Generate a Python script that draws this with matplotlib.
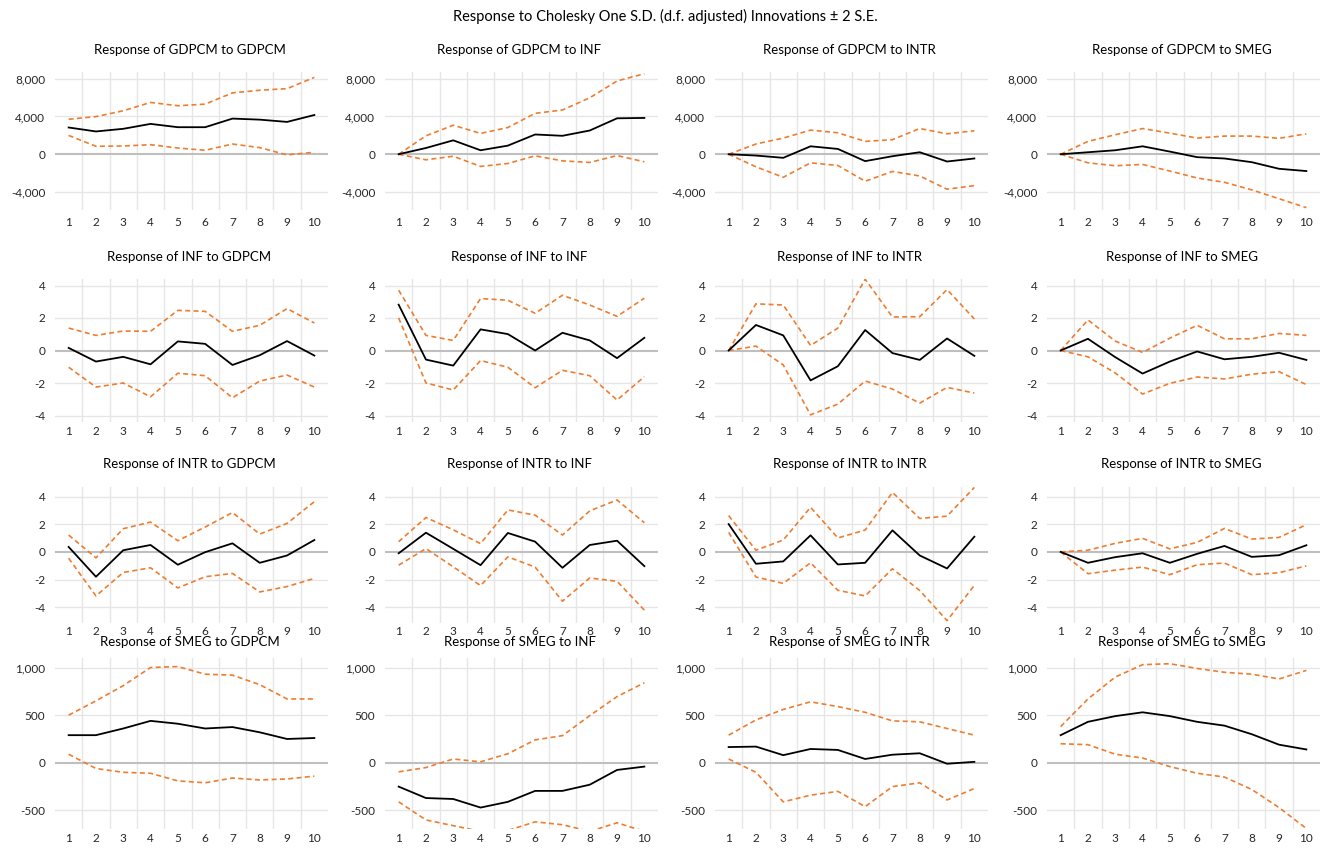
import numpy as np
import matplotlib.pyplot as plt

plt.rcParams['font.family'] = ['Lato', 'DejaVu Sans']
plt.rcParams['axes.unicode_minus'] = False

periods = np.arange(1, 11)
names = ['GDPCM', 'INF', 'INTR', 'SMEG']

# response, upper band, lower band for each (response of, to) pair
resp = {
    ('GDPCM', 'GDPCM'): [2830, 2410, 2690, 3210, 2860, 2860, 3770, 3660, 3420, 4150],
    ('GDPCM', 'INF'): [0, 660, 1470, 420, 910, 2090, 1950, 2510, 3800, 3840],
    ('GDPCM', 'INTR'): [0, -140, -380, 840, 560, -730, -210, 210, -770, -450],
    ('GDPCM', 'SMEG'): [0, 210, 420, 840, 280, -310, -450, -840, -1540, -1780],
    ('INF', 'GDPCM'): [0.16, -0.68, -0.39, -0.85, 0.56, 0.41, -0.89, -0.29, 0.58, -0.31],
    ('INF', 'INF'): [2.82, -0.56, -0.93, 1.30, 1.01, 0.0, 1.09, 0.62, -0.47, 0.78],
    ('INF', 'INTR'): [0, 1.57, 0.93, -1.84, -0.97, 1.26, -0.16, -0.58, 0.74, -0.33],
    ('INF', 'SMEG'): [0, 0.72, -0.41, -1.42, -0.68, -0.06, -0.54, -0.39, -0.14, -0.58],
    ('INTR', 'GDPCM'): [0.36, -1.80, 0.12, 0.50, -0.93, -0.02, 0.62, -0.79, -0.26, 0.86],
    ('INTR', 'INF'): [-0.10, 1.39, 0.22, -0.96, 1.37, 0.74, -1.15, 0.50, 0.81, -1.03],
    ('INTR', 'INTR'): [2.01, -0.86, -0.69, 1.20, -0.91, -0.79, 1.56, -0.26, -1.20, 1.10],
    ('INTR', 'SMEG'): [0, -0.79, -0.38, -0.10, -0.79, -0.14, 0.43, -0.36, -0.24, 0.48],
    ('SMEG', 'GDPCM'): [290, 290, 360, 440, 410, 360, 375, 320, 250, 260],
    ('SMEG', 'INF'): [-250, -370, -380, -470, -410, -295, -295, -230, -75, -40],
    ('SMEG', 'INTR'): [165, 170, 80, 145, 135, 40, 85, 100, -10, 10],
    ('SMEG', 'SMEG'): [290, 430, 490, 530, 490, 430, 390, 300, 190, 140],
}
upper = {
    ('GDPCM', 'GDPCM'): [3700, 3980, 4600, 5480, 5130, 5300, 6490, 6770, 6940, 8130],
    ('GDPCM', 'INF'): [0, 1950, 3070, 2200, 2830, 4330, 4680, 5970, 7750, 8520],
    ('GDPCM', 'INTR'): [0, 1080, 1710, 2550, 2270, 1360, 1540, 2720, 2160, 2480],
    ('GDPCM', 'SMEG'): [0, 1360, 2060, 2720, 2230, 1710, 1920, 1920, 1680, 2160],
    ('INF', 'GDPCM'): [1.38, 0.93, 1.20, 1.18, 2.47, 2.41, 1.18, 1.55, 2.58, 1.69],
    ('INF', 'INF'): [3.71, 0.93, 0.62, 3.20, 3.09, 2.29, 3.40, 2.80, 2.10, 3.22],
    ('INF', 'INTR'): [0, 2.87, 2.80, 0.31, 1.38, 4.39, 2.06, 2.08, 3.75, 1.94],
    ('INF', 'SMEG'): [0, 1.88, 0.58, -0.12, 0.76, 1.55, 0.72, 0.72, 1.05, 0.93],
    ('INTR', 'GDPCM'): [1.22, -0.43, 1.68, 2.16, 0.81, 1.80, 2.85, 1.29, 2.06, 3.64],
    ('INTR', 'INF'): [0.74, 2.49, 1.60, 0.60, 3.04, 2.66, 1.22, 2.97, 3.76, 2.11],
    ('INTR', 'INTR'): [2.63, 0.12, 0.86, 3.23, 1.01, 1.58, 4.31, 2.42, 2.59, 4.67],
    ('INTR', 'SMEG'): [0, 0.12, 0.62, 0.98, 0.22, 0.69, 1.70, 0.93, 1.05, 1.97],
    ('SMEG', 'GDPCM'): [500, 650, 810, 1000, 1010, 930, 920, 820, 670, 670],
    ('SMEG', 'INF'): [-95, -50, 40, 10, 95, 240, 285, 495, 695, 840],
    ('SMEG', 'INTR'): [290, 450, 560, 640, 590, 530, 440, 430, 360, 290],
    ('SMEG', 'SMEG'): [380, 670, 900, 1030, 1040, 990, 950, 930, 880, 970],
}
lower = {
    ('GDPCM', 'GDPCM'): [1990, 840, 870, 1010, 660, 420, 1080, 700, -70, 210],
    ('GDPCM', 'INF'): [0, -590, -210, -1290, -980, -170, -700, -870, -140, -800],
    ('GDPCM', 'INTR'): [0, -1330, -2440, -910, -1190, -2860, -1820, -2300, -3700, -3320],
    ('GDPCM', 'SMEG'): [0, -910, -1220, -1080, -1780, -2510, -2970, -3770, -4710, -5650],
    ('INF', 'GDPCM'): [-1.03, -2.25, -2.00, -2.85, -1.40, -1.55, -2.91, -1.88, -1.51, -2.25],
    ('INF', 'INF'): [2.00, -2.00, -2.43, -0.62, -1.03, -2.29, -1.22, -1.55, -3.05, -1.61],
    ('INF', 'INTR'): [0, 0.27, -0.89, -3.96, -3.30, -1.88, -2.37, -3.24, -2.27, -2.62],
    ('INF', 'SMEG'): [0, -0.39, -1.38, -2.68, -2.02, -1.63, -1.75, -1.46, -1.30, -2.10],
    ('INTR', 'GDPCM'): [-0.46, -3.19, -1.49, -1.15, -2.61, -1.80, -1.56, -2.90, -2.51, -1.92],
    ('INTR', 'INF'): [-0.96, 0.24, -1.08, -2.44, -0.36, -1.10, -3.57, -1.89, -2.13, -4.22],
    ('INTR', 'INTR'): [1.41, -1.82, -2.28, -0.79, -2.78, -3.19, -1.22, -2.80, -4.98, -2.42],
    ('INTR', 'SMEG'): [0, -1.58, -1.32, -1.10, -1.65, -0.93, -0.81, -1.65, -1.51, -1.01],
    ('SMEG', 'GDPCM'): [90, -60, -100, -110, -190, -210, -160, -180, -170, -140],
    ('SMEG', 'INF'): [-410, -600, -660, -720, -710, -620, -650, -720, -630, -720],
    ('SMEG', 'INTR'): [40, -100, -410, -340, -300, -460, -250, -210, -390, -270],
    ('SMEG', 'SMEG'): [200, 190, 90, 50, -40, -110, -150, -280, -470, -690],
}

# axis settings per row
yticks = [[-4000, 0, 4000, 8000], [-4, -2, 0, 2, 4], [-4, -2, 0, 2, 4], [-500, 0, 500, 1000]]
ylims = [(-5900, 8700), (-4.4, 4.4), (-5.15, 4.7), (-695, 1100)]
row_top = [72, 279, 487, 658]
row_bot = [210, 422, 623, 829]
title_y = [50, 257, 464, 642]
xpad = [5, 3, 2, 3]
col_left = [55, 385, 715, 1047]
W, H = 1330, 849
aw = 273

orange = '#ED7D31'

fig = plt.figure(figsize=(13.3, 8.49), dpi=100)
fig.text(0.5, 1 - 16 / H, 'Response to Cholesky One S.D. (d.f. adjusted) Innovations \u00b1 2 S.E.',
         ha='center', va='center', fontsize=10.5)

for r, shocked in enumerate(names):
    for c, shock in enumerate(names):
        ax = fig.add_axes([col_left[c] / W, 1 - row_bot[r] / H, aw / W, (row_bot[r] - row_top[r]) / H])
        key = (shocked, shock)
        ax.plot(periods, upper[key], color=orange, lw=1.2, ls=(0, (3, 2)))
        ax.plot(periods, lower[key], color=orange, lw=1.2, ls=(0, (3, 2)))
        ax.plot(periods, resp[key], color='black', lw=1.3)
        ax.axhline(0, color='#BFBFBF', lw=1.5, zorder=1)
        for yt in yticks[r]:
            if yt != 0:
                ax.axhline(yt, color='#E6E6E6', lw=1, zorder=0)
        for xv in np.arange(1.5, 10, 1):
            ax.axvline(xv, color='#E6E6E6', lw=1, zorder=0)
        ax.set_xlim(0.5, 10.5)
        ax.set_ylim(*ylims[r])
        ax.set_xticks(periods)
        ax.set_yticks(yticks[r])
        if r in (0, 3):
            ax.set_yticklabels([f'{v:,}' for v in yticks[r]])
        ax.tick_params(length=0, labelsize=8.5, colors='#262626')
        ax.tick_params(axis='y', pad=7)
        ax.tick_params(axis='x', pad=xpad[r])
        for s in ax.spines.values():
            s.set_visible(False)
        fig.text((col_left[c] + aw / 2 - 2) / W, 1 - title_y[r] / H, f'Response of {shocked} to {shock}',
                 ha='center', va='center', fontsize=9.5)

fig.savefig('out.png', dpi=100)
